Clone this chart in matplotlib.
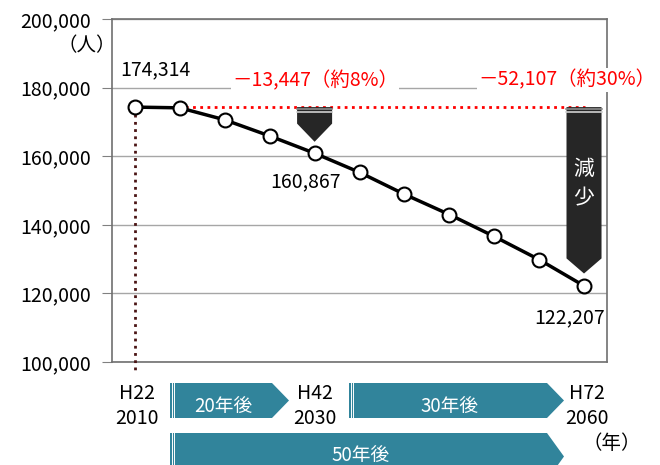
import matplotlib
matplotlib.use("Agg")
import matplotlib.pyplot as plt
from matplotlib.patches import Polygon

plt.rcParams["font.family"] = ["Noto Sans CJK JP", "DejaVu Sans"]

# population projection (persons)
years = [2010, 2015, 2020, 2025, 2030, 2035, 2040, 2045, 2050, 2055, 2060]
population = [174314, 174100, 170600, 165900, 160867, 155300, 148900, 143000, 136600, 129850, 122207]
era_labels = ["H22\n2010", "H42\n2030", "H72\n2060"]
era_years = [2010, 2030, 2060]
y_ticks = [100000, 120000, 140000, 160000, 180000, 200000]

W, H = 660, 465
fig = plt.figure(figsize=(6.6, 4.65), dpi=100)
ax = fig.add_axes([112 / W, 1 - 362 / H, 495 / W, 343 / H])


def px(x, y):
    # pixel position -> figure fraction
    return (x / W, 1 - y / H)


ax.set_xlim(2007.44, 2062.56)
ax.set_ylim(100000, 200000)
ax.set_yticks(y_ticks)
ax.set_yticklabels([f"{v:,}" for v in y_ticks], fontsize=14)
ax.set_xticks([])
ax.tick_params(axis="y", length=7, color="#808080", pad=8)
for s in ["left", "right", "bottom", "top"]:
    ax.spines[s].set_color("#707070")
    ax.spines[s].set_linewidth(1.2)
ax.yaxis.grid(True, color="#a6a6a6", linewidth=1.0)
ax.set_axisbelow(True)

base = population[0]
# reference lines
ax.axhline(base, xmin=0.06, xmax=0.955, color="red", linestyle=(0, (1, 1.6)), linewidth=2, zorder=4)
ax.plot([years[0], years[0]], [base, 96800], color="#4a1414", linestyle=(0, (1, 1.6)),
        linewidth=2, clip_on=False, zorder=4)

ax.plot(years, population, color="black", linewidth=2.5, marker="o", markersize=10,
        markerfacecolor="white", markeredgecolor="black", markeredgewidth=1.5, zorder=5)


def down_arrow(x, y_top, y_body, y_tip, half_w):
    pts = [(x - half_w, y_top), (x + half_w, y_top), (x + half_w, y_body),
           (x, y_tip), (x - half_w, y_body)]
    ax.add_patch(Polygon(pts, closed=True, facecolor="#262626", edgecolor="none", zorder=6))
    for yy, c in [(y_top - 600, "#8c8c8c"), (y_top - 1300, "#d0d0d0")]:
        ax.plot([x - half_w, x + half_w], [yy, yy], color=c, linewidth=1.2, zorder=7)


down_arrow(years[4], base, 169500, 164200, 1.95)
down_arrow(years[-1], base, 130200, 125800, 1.95)
ax.text(years[-1], 151900, "減\n少", color="white", fontsize=15, ha="center", va="center",
        linespacing=1.45, zorder=8)

# value labels
fig.text(*px(155, 70), f"{population[0]:,}", fontsize=14, ha="center", va="center")
fig.text(*px(305, 182), f"{population[4]:,}", fontsize=14, ha="center", va="center")
fig.text(*px(570, 318), f"{population[-1]:,}", fontsize=14, ha="center", va="center")
fig.text(*px(87, 46), "（人）", fontsize=14, ha="center", va="center")

d20 = population[4] - base
d50 = population[-1] - base
fig.text(*px(315, 81), f"－{abs(d20):,}（約{round(abs(d20) / base * 100)}%）", color="red",
         fontsize=14, ha="center", va="center",
         bbox=dict(facecolor="white", edgecolor="none", pad=1))
fig.text(*px(567, 80), f"－{abs(d50):,}（約{round(abs(d50) / base * 100)}%）", color="red",
         fontsize=14, ha="center", va="center",
         bbox=dict(facecolor="white", edgecolor="none", pad=1))

# era labels under the axis
era_px = [137, 315, 587]
for lab, xp in zip(era_labels, era_px):
    fig.text(*px(xp, 406), lab, fontsize=14, ha="center", va="center", linespacing=1.3)
fig.text(*px(612, 443), "（年）", fontsize=14, ha="center", va="center")

# teal period arrows
teal = "#31849b"


def period_arrow(x0, x1, y0, y1, label, ty):
    tip_w = 17
    pts = [px(x0, y0), px(x1 - tip_w, y0), px(x1, (y0 + y1) / 2), px(x1 - tip_w, y1), px(x0, y1)]
    fig.patches.append(Polygon(pts, closed=True, facecolor=teal, edgecolor="none",
                               transform=fig.transFigure, figure=fig))
    for dx in (2, 4):
        fig.lines.append(plt.Line2D([px(x0 + dx, 0)[0]] * 2, [px(0, y0)[1], px(0, y1)[1]],
                                    color="white", linewidth=0.7, transform=fig.transFigure,
                                    figure=fig))
    fig.text(*px((x0 + x1 - tip_w) / 2 + 2, ty), label, color="white", fontsize=13.5,
             ha="center", va="center")


period_arrow(170, 289, 383, 418, "20年後", 406)
period_arrow(349, 564, 383, 418, "30年後", 406)
period_arrow(170, 564, 433, 480, "50年後", 455)

fig.savefig("out.png", dpi=100)
